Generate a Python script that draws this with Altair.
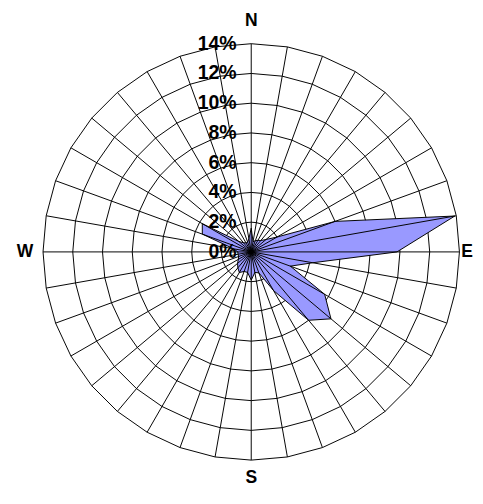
import altair as alt
import pandas as pd

# Wind directions (degrees, clockwise from North) and frequency (%)
directions = list(range(0, 360, 10))
values = [1.6, 0.7, 0.8, 0.9, 1.0, 1.3, 2.0, 6.0, 13.9, 9.8, 4.2, 2.8,
          5.7, 7.0, 6.0, 3.0, 1.5, 1.4, 1.9, 1.4, 1.4, 1.6, 1.4, 1.2,
          1.0, 0.9, 0.9, 0.9, 1.2, 3.5, 3.8, 1.1, 0.8, 0.7, 0.7, 0.9]
ring_levels = [2, 4, 6, 8, 10, 12, 14]
ring_labels = ["0%", "2%", "4%", "6%", "8%", "10%", "12%", "14%"]
label_levels = [0, 2, 4, 6, 8, 10, 12, 14]
compass = ["N", "E", "S", "W"]
compass_dir = [0, 90, 180, 270]

RMAX = 14
FONT = "Liberation Sans"

data_df = pd.DataFrame({"dir": directions, "r": values})
rings_df = pd.DataFrame([{"dir": d, "r": lv} for lv in ring_levels for d in directions])
spokes_df = pd.DataFrame({"dir": directions, "r": [RMAX] * len(directions)})
lab_df = pd.DataFrame({"label": ring_labels, "lv": label_levels})
comp_df = pd.DataFrame({"label": compass, "dir": compass_dir})

xs = alt.Scale(domain=[-RMAX, RMAX], nice=False, zero=False)
ys = alt.Scale(domain=[-RMAX, RMAX], nice=False, zero=False)

def polar(chart):
    return chart.transform_calculate(
        px="datum.r * sin(datum.dir * PI / 180)",
        py="datum.r * cos(datum.dir * PI / 180)",
    )

rings = polar(alt.Chart(rings_df)).mark_line(
    interpolate="linear-closed", color="black", strokeWidth=1
).encode(
    x=alt.X("px:Q", scale=xs, axis=None),
    y=alt.Y("py:Q", scale=ys, axis=None),
    detail="r:N",
    order="dir:Q",
)

area = polar(alt.Chart(data_df)).mark_line(
    interpolate="linear-closed", fill="#9999FF", stroke="black", strokeWidth=1
).encode(
    x=alt.X("px:Q", scale=xs, axis=None),
    y=alt.Y("py:Q", scale=ys, axis=None),
    order="dir:Q",
)

spokes = polar(alt.Chart(spokes_df)).transform_calculate(
    zx="0", zy="0"
).mark_rule(color="black", strokeWidth=1).encode(
    x=alt.X("zx:Q", scale=xs, axis=None),
    y=alt.Y("zy:Q", scale=ys, axis=None),
    x2="px:Q",
    y2="py:Q",
)

pct = alt.Chart(lab_df).transform_calculate(
    lx="-0.98"
).mark_text(
    align="right", baseline="middle", font=FONT, fontSize=20, fontWeight="bold", color="black"
).encode(
    x=alt.X("lx:Q", scale=xs, axis=None),
    y=alt.Y("lv:Q", scale=ys, axis=None),
    text="label:N",
)

comp = alt.Chart(comp_df).transform_calculate(
    cx="datum.dir == 90 ? 14.12 : (datum.dir == 270 ? -14.65 : 0)",
    cy="datum.dir == 0 ? 15.5 : (datum.dir == 180 ? -15.2 : 0)",
).mark_text(
    align="center", baseline="middle", font=FONT, fontSize=18, fontWeight="bold", color="black"
).encode(
    x=alt.X("cx:Q", scale=xs, axis=None),
    y=alt.Y("cy:Q", scale=ys, axis=None),
    text="label:N",
)

comp_l = comp.transform_filter("datum.dir != 90 && datum.dir != 270")
comp_e = comp.transform_filter("datum.dir == 90").mark_text(
    align="left", baseline="middle", font=FONT, fontSize=18, fontWeight="bold", color="black"
)
comp_w = comp.transform_filter("datum.dir == 270").mark_text(
    align="right", baseline="middle", font=FONT, fontSize=18, fontWeight="bold", color="black"
)

chart = alt.layer(rings, area, spokes, pct, comp_l, comp_e, comp_w).properties(
    width=428, height=428,
    autosize=alt.AutoSizeParams(type="none"),
    padding={"left": 36, "top": 30, "right": 16, "bottom": 24},
    background="white",
).configure_view(strokeWidth=0)

chart.save("out.html", embed_options={"renderer": "svg", "actions": False})
